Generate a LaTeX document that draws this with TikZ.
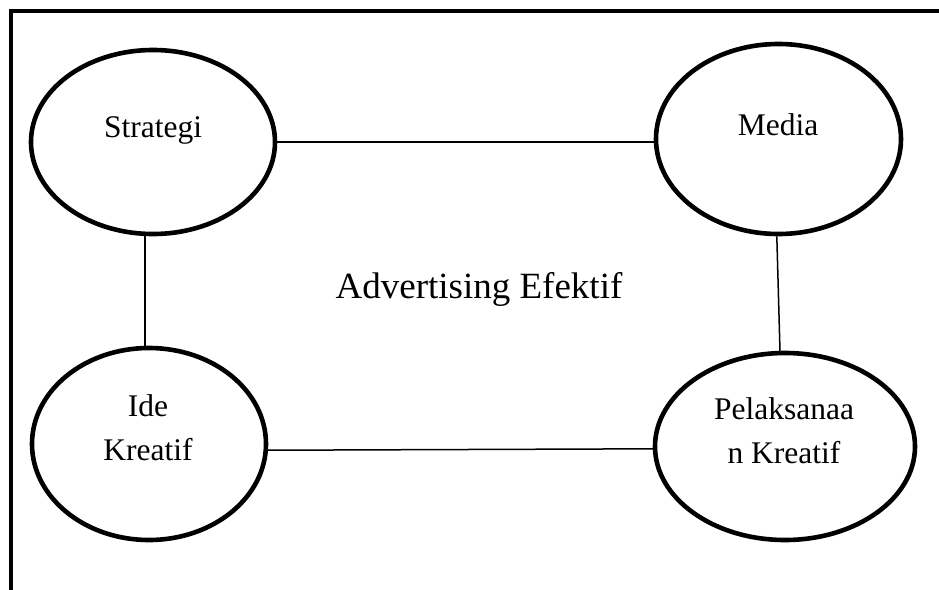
\documentclass[tikz,border=0pt]{standalone}
\usepackage{fontspec}
\setmainfont{Liberation Serif}
\usetikzlibrary{shapes.geometric}
\begin{document}
\begin{tikzpicture}[x=1pt,y=-1pt,
  oval/.style={ellipse, draw, line width=4.6pt, inner sep=0pt},
  link/.style={line width=1.5pt},
  lbl/.style={font=\fontsize{31.5}{44}\selectfont, align=center, anchor=base, inner sep=0pt},
  title/.style={font=\fontsize{37}{44}\selectfont, anchor=base, inner sep=0pt}]
\useasboundingbox (0,0) rectangle (939,589);
\fill[white] (0,0) rectangle (939,589);
\draw[line width=4.6pt] (11,600) -- (11,11) -- (950,11);
\node[oval, minimum width=244pt, minimum height=184pt] (s) at (153,142) {};
\node[oval, minimum width=245pt, minimum height=190pt] (m) at (778.5,139) {};
\node[oval, minimum width=234pt, minimum height=192pt] (i) at (149,444) {};
\node[oval, minimum width=260pt, minimum height=187pt] (p) at (785,446.5) {};
\node[lbl] (ts) at (153,137) {Strategi};
\node[lbl] (tm) at (778,135) {Media};
\node[lbl] (ti) at (148,460) {Ide\\Kreatif};
\node[lbl] (tp) at (784,463) {Pelaksanaa\\n Kreatif};
\node[title] (tt) at (479,298) {Advertising Efektif};
\draw[link] (s.east) -- (s.east -| m.west);
\draw[link] (i.357) -- (p.181);
\draw[link] (s.265) -- (s.265 |- i.north);
\draw[link] (m.269) -- (p.93);
\end{tikzpicture}
\end{document}
